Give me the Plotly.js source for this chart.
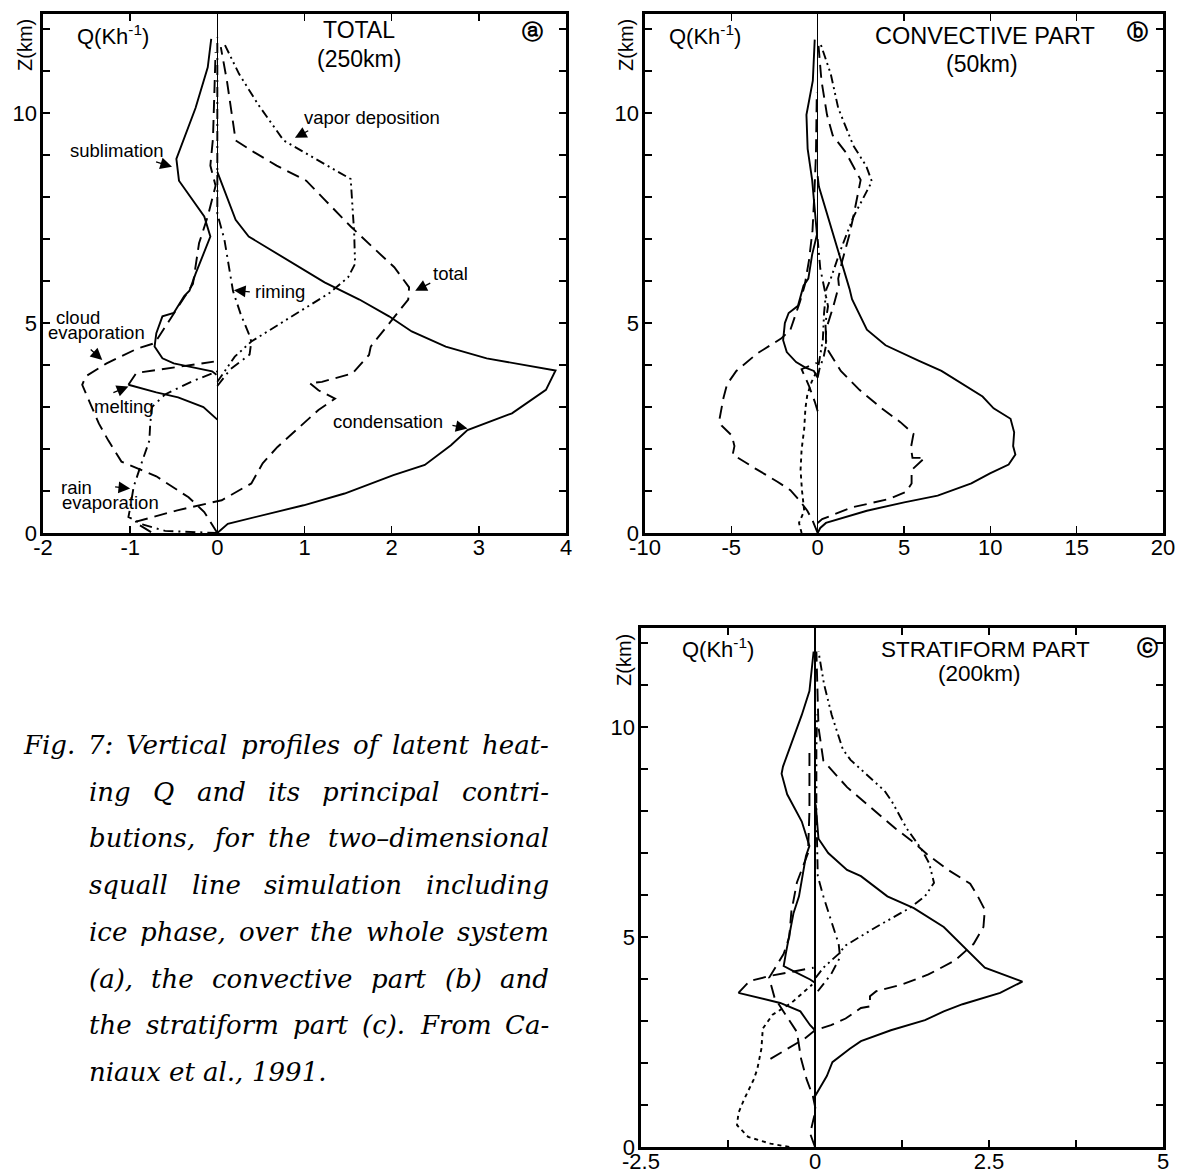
<!DOCTYPE html>
<html>
<head>
<meta charset="utf-8">
<script src="https://cdn.plot.ly/plotly-3.0.1.min.js"></script>
<style>html,body{margin:0;padding:0;background:#fff}</style>
</head>
<body>
<div id="chart" style="width:1179px;height:1173px"></div>
<script>
// ---------- (a) TOTAL, 250 km : heating rate Q (K/h) against height Z (km) ----------
const aCondZ = [0.00, 0.05, 0.22, 0.66, 0.94, 1.38, 1.62, 2.09, 2.45, 2.85, 3.41, 3.87, 4.16, 4.44, 4.80, 5.16, 5.56, 5.97, 6.57, 7.06, 7.46, 8.43, 8.60];
const aCondQ = [0.00, 0.03, 0.12, 0.99, 1.46, 2.02, 2.38, 2.68, 2.87, 3.38, 3.77, 3.88, 3.09, 2.62, 2.23, 1.97, 1.63, 1.23, 0.76, 0.36, 0.21, 0.03, 0.00];
const aSublZ = [3.77, 3.85, 4.04, 4.16, 4.44, 4.76, 5.16, 5.24, 5.64, 5.77, 6.17, 7.06, 7.54, 8.39, 8.91, 10.12, 11.09, 11.77];
const aSublQ = [-0.01, -0.06, -0.50, -0.63, -0.72, -0.70, -0.63, -0.50, -0.38, -0.32, -0.25, -0.08, -0.15, -0.44, -0.47, -0.25, -0.11, -0.07];
const aTotZ = [0.02, 0.26, 0.54, 0.78, 1.18, 1.66, 2.05, 2.45, 2.93, 3.20, 3.40, 3.57, 3.60, 3.80, 4.24, 4.44, 5.56, 5.85, 6.33, 6.81, 7.30, 7.94, 8.39, 8.75, 9.07, 9.35, 10.12, 10.77, 11.57];
const aTotQ = [-0.76, -0.95, -0.46, 0.05, 0.39, 0.52, 0.69, 0.90, 1.16, 1.35, 1.16, 1.06, 1.20, 1.55, 1.74, 1.76, 2.19, 2.20, 2.03, 1.78, 1.53, 1.23, 1.02, 0.68, 0.42, 0.21, 0.16, 0.11, 0.04];
const aVapZ = [3.60, 4.20, 4.56, 5.72, 6.09, 6.41, 7.14, 7.78, 8.43, 8.99, 9.35, 10.20, 10.93, 11.65];
const aVapQ = [0.00, 0.20, 0.39, 1.29, 1.50, 1.58, 1.57, 1.55, 1.53, 1.06, 0.76, 0.47, 0.25, 0.08];
const aRimZ = [3.50, 3.90, 4.25, 4.56, 4.75, 5.20, 5.76, 6.40, 7.00, 7.60, 11.8];
const aRimQ = [0.00, 0.15, 0.37, 0.39, 0.36, 0.27, 0.18, 0.13, 0.08, 0.00, 0.00];
const aCloudZ = [0.00, 0.50, 0.85, 1.35, 1.70, 2.20, 2.61, 3.53, 3.73, 4.04, 4.40, 4.52, 5.00, 5.48, 5.93, 6.90, 7.54, 8.27, 8.75, 9.40, 11.45];
const aCloudQ = [0.00, -0.15, -0.33, -0.70, -1.10, -1.25, -1.36, -1.55, -1.51, -1.27, -0.91, -0.72, -0.57, -0.42, -0.28, -0.21, -0.11, -0.02, -0.08, -0.05, -0.02];
const aMeltZ = [2.70, 3.00, 3.23, 3.35, 3.53, 3.81, 4.08];
const aMeltQ = [0.00, -0.16, -0.45, -0.70, -1.02, -0.93, -0.04];
const aRainZ = [0.00, 0.05, 0.20, 0.38, 0.60, 1.10, 1.60, 2.20, 2.60, 3.00, 3.30, 3.60, 3.85];
const aRainQ = [0.00, -0.60, -0.85, -1.02, -1.00, -0.96, -0.88, -0.78, -0.77, -0.75, -0.60, -0.30, 0.00];

// ---------- (b) CONVECTIVE PART, 50 km ----------
const bCondZ = [0.00, 0.12, 0.24, 0.53, 0.73, 0.89, 1.18, 1.42, 1.63, 1.87, 2.07, 2.40, 2.72, 2.97, 3.25, 3.58, 3.86, 4.10, 4.47, 4.84, 5.57, 5.82, 6.71, 7.28, 7.93, 8.25, 8.50];
const bCondQ = [0.00, 0.15, 0.48, 2.85, 5.01, 6.95, 8.90, 9.98, 11.06, 11.45, 11.32, 11.38, 11.17, 10.19, 9.55, 8.25, 7.17, 5.87, 3.93, 2.85, 1.99, 1.84, 1.19, 0.76, 0.32, 0.07, 0.00];
const bSublZ = [3.70, 3.86, 3.94, 4.07, 4.31, 4.59, 5.00, 5.24, 5.41, 5.89, 6.06, 6.63, 7.11, 7.76, 8.41, 9.15, 9.96, 10.77, 11.75];
const bSublQ = [0.00, -0.22, -0.71, -1.25, -1.79, -2.00, -1.90, -1.68, -1.14, -0.82, -0.54, -0.32, -0.04, -0.17, -0.32, -0.58, -0.65, -0.28, -0.17];
const bTotZ = [0.24, 0.33, 0.61, 0.81, 0.98, 1.18, 1.50, 1.79, 1.79, 2.03, 2.36, 2.64, 2.97, 3.41, 3.86, 4.43, 4.84, 5.40, 5.89, 6.06, 6.46, 7.11, 7.52, 7.93, 8.41, 9.07, 9.47, 9.96, 10.77, 11.60];
const bTotQ = [0.00, 0.26, 1.99, 4.15, 5.12, 5.44, 5.44, 6.20, 5.49, 5.40, 5.55, 4.79, 3.71, 2.42, 1.34, 0.48, 0.48, 0.91, 1.23, 1.19, 1.41, 1.84, 2.06, 2.27, 2.49, 1.62, 0.87, 0.54, 0.22, 0.05];
const bVapZ = [4.00, 4.60, 5.24, 5.80, 6.06, 6.71, 7.52, 8.09, 8.37, 8.74, 9.23, 10.12, 10.93, 11.67];
const bVapQ = [0.05, 0.30, 0.37, 0.50, 0.76, 1.30, 2.06, 2.81, 3.14, 2.81, 2.06, 1.19, 0.76, 0.15];
const bRimZ = [3.70, 3.90, 4.20, 4.50, 5.00, 5.40, 5.80, 6.30, 7.00];
const bRimQ = [0.00, 0.10, 0.35, 0.50, 0.45, 0.60, 0.40, 0.15, 0.00];
const bCloudZ = [0.00, 0.30, 0.53, 0.77, 1.02, 1.22, 1.54, 1.87, 2.07, 2.32, 2.56, 2.72, 3.21, 3.54, 3.86, 4.27, 4.63, 4.84, 5.49, 5.90, 6.50, 7.20, 8.00, 9.00, 10.5];
const bCloudQ = [0.00, -0.30, -0.60, -1.04, -1.58, -2.33, -3.63, -4.92, -4.82, -4.97, -5.57, -5.68, -5.46, -5.25, -4.71, -3.52, -2.12, -1.58, -1.04, -0.75, -0.50, -0.30, -0.20, -0.10, -0.05];
const bMeltZ = [2.90, 3.13, 3.50, 3.90, 4.05];
const bMeltQ = [0.00, -0.17, -0.50, -0.93, -0.05];
const bRainZ = [0.00, 0.24, 0.53, 1.02, 1.50, 1.99, 2.48, 2.97, 3.29, 3.60, 3.90];
const bRainQ = [-0.93, -1.08, -0.78, -0.91, -0.99, -0.93, -0.78, -0.71, -0.60, -0.35, 0.00];

// ---------- (c) STRATIFORM PART, 200 km ----------
const cCondZ = [0.00, 1.21, 1.69, 2.02, 2.34, 2.52, 2.78, 3.02, 3.23, 3.40, 3.67, 3.94, 4.27, 4.48, 4.88, 5.24, 5.69, 5.97, 6.45, 6.60, 7.00, 7.34, 8.16];
const cCondQ = [0.00, 0.00, 0.17, 0.25, 0.50, 0.66, 1.09, 1.58, 1.85, 2.12, 2.66, 2.98, 2.44, 2.31, 2.06, 1.85, 1.42, 1.04, 0.66, 0.46, 0.19, 0.05, 0.01];
const cSublZ = [3.91, 3.99, 4.19, 4.31, 4.60, 5.00, 5.56, 5.97, 6.45, 6.93, 7.17, 7.75, 8.40, 8.89, 9.06, 9.71, 10.29, 10.86, 11.80];
const cSublQ = [0.00, -0.07, -0.31, -0.45, -0.42, -0.37, -0.31, -0.23, -0.18, -0.13, -0.08, -0.19, -0.40, -0.48, -0.46, -0.32, -0.19, -0.08, -0.02];
const cTotZ = [2.10, 2.58, 2.78, 2.90, 3.06, 3.31, 3.35, 3.59, 3.71, 3.87, 4.11, 4.44, 4.84, 5.24, 5.65, 5.97, 6.27, 6.60, 6.97, 7.25, 7.58, 8.11, 8.57, 9.20, 10.00, 11.80];
const cTotQ = [-0.64, -0.15, 0.00, 0.23, 0.44, 0.66, 0.79, 0.79, 0.88, 1.25, 1.63, 2.01, 2.28, 2.42, 2.44, 2.34, 2.23, 1.91, 1.61, 1.42, 1.16, 0.78, 0.46, 0.12, 0.05, 0.02];
const cVapZ = [4.03, 4.27, 4.60, 4.80, 5.24, 5.69, 5.97, 6.29, 6.76, 7.09, 7.58, 8.24, 8.48, 8.81, 9.22, 9.47, 10.29, 11.02, 11.80];
const cVapQ = [0.01, 0.12, 0.34, 0.44, 0.88, 1.36, 1.58, 1.71, 1.64, 1.53, 1.32, 1.10, 1.00, 0.78, 0.51, 0.40, 0.24, 0.13, 0.05];
const cRimZ = [3.71, 3.87, 4.11, 4.52, 4.84, 5.40, 5.97, 6.45, 7.00, 8.00, 9.50, 10.3];
const cRimQ = [0.04, 0.12, 0.23, 0.36, 0.34, 0.23, 0.12, 0.04, 0.03, 0.02, 0.02, 0.03];
const cCloudZ = [0.00, 0.32, 0.89, 1.21, 1.61, 2.10, 2.74, 3.23, 3.55, 4.03, 4.60, 5.00, 5.60, 6.30, 7.00, 8.00, 9.50];
const cCloudQ = [0.00, -0.07, 0.01, -0.03, -0.12, -0.20, -0.26, -0.45, -0.58, -0.66, -0.45, -0.37, -0.34, -0.26, -0.10, -0.08, -0.08];
const cMeltZ = [2.78, 2.90, 3.23, 3.43, 3.67, 3.95, 4.07, 4.27];
const cMeltQ = [0.00, -0.07, -0.21, -0.50, -1.10, -0.94, -0.66, -0.02];
const cRainZ = [0.00, 0.08, 0.24, 0.52, 0.81, 1.13, 1.61, 1.85, 2.34, 2.82, 3.15, 3.43, 3.87];
const cRainQ = [-0.37, -0.64, -0.96, -1.12, -1.10, -1.02, -0.88, -0.83, -0.77, -0.75, -0.61, -0.34, -0.04];

// axis ticks and labels
const zTicks = [0, 1, 2, 3, 4, 5, 6, 7, 8, 9, 10, 11, 12];
const zTickText = ['0', '', '', '', '', '5', '', '', '', '', '10', '', ''];
const aQTicks = [-2, -1, 0, 1, 2, 3, 4];
const bQTicks = [-10, -5, 0, 5, 10, 15, 20];
const cQTicks = [-2.5, -1.25, 0, 1.25, 2.5, 3.75, 5];
const cQTickText = ['-2.5', '', '0', '', '2.5', '', '5'];

// caption lines
const captionLines = [
  'Fig.  7:  Vertical profiles of latent heat-',
  'ing Q and its principal contri-',
  'butions, for the two\u2013dimensional',
  'squall line simulation including',
  'ice phase, over the whole system',
  '(a), the convective part (b) and',
  'the stratiform part (c). From Ca-',
  'niaux et al., 1991.'
];

// ---------- drawing ----------
const W = 1179, H = 1173;
const SANS = '"Liberation Sans", Arial, sans-serif';
const STY = {
  solid: 'solid',
  longdash: '13px,7px',
  shortdash: '4px,4px',
  dashdot: '10px,5px,2px,5px',
  dashdotdot: '9px,4px,2px,4px,2px,4px'
};

function line(q, z, ax, dash) {
  return {
    x: q, y: z, type: 'scatter', mode: 'lines',
    xaxis: 'x' + ax, yaxis: 'y' + ax,
    line: {color: '#000', width: 1.9, dash: dash, shape: 'linear'},
    hoverinfo: 'skip', showlegend: false
  };
}
// melting loop: solid on its lower limb, dashed above its strongest cooling
function meltLines(q, z, ax) {
  let k = 0;
  q.forEach((v, i) => { if (v < q[k]) k = i; });
  return [line(q.slice(0, k + 1), z.slice(0, k + 1), ax, STY.solid),
          line(q.slice(k), z.slice(k), ax, STY.longdash)];
}

const traces = [
  line(aCondQ, aCondZ, '', STY.solid),
  line(aSublQ, aSublZ, '', STY.solid),
  ...meltLines(aMeltQ, aMeltZ, ''),
  line(aTotQ, aTotZ, '', STY.longdash),
  line(aCloudQ, aCloudZ, '', STY.longdash),
  line(aVapQ, aVapZ, '', STY.dashdotdot),
  line(aRimQ, aRimZ, '', STY.dashdot),
  line(aRainQ, aRainZ, '', STY.dashdot),

  line(bCondQ, bCondZ, '2', STY.solid),
  line(bSublQ, bSublZ, '2', STY.solid),
  line(bMeltQ, bMeltZ, '2', STY.longdash),
  line(bTotQ, bTotZ, '2', STY.longdash),
  line(bCloudQ, bCloudZ, '2', STY.longdash),
  line(bVapQ, bVapZ, '2', STY.dashdotdot),
  line(bRimQ, bRimZ, '2', STY.dashdot),
  line(bRainQ, bRainZ, '2', STY.shortdash),

  line(cCondQ, cCondZ, '3', STY.solid),
  line(cSublQ, cSublZ, '3', STY.solid),
  ...meltLines(cMeltQ, cMeltZ, '3'),
  line(cTotQ, cTotZ, '3', STY.longdash),
  line(cCloudQ, cCloudZ, '3', STY.longdash),
  line(cVapQ, cVapZ, '3', STY.dashdotdot),
  line(cRimQ, cRimZ, '3', STY.dashdot),
  line(cRainQ, cRainZ, '3', STY.shortdash)
];

function xAxis(domain, range, vals, text, anchor) {
  return {
    domain: domain, range: range, anchor: anchor,
    tickvals: vals, ticktext: text || vals.map(String),
    ticks: 'inside', ticklen: 7, tickwidth: 1.6, tickcolor: '#000',
    showline: true, linewidth: 2.6, linecolor: '#000', mirror: 'ticks',
    showgrid: false, zeroline: true, zerolinecolor: '#000', zerolinewidth: 1.5,
    tickfont: {family: SANS, size: 22, color: '#000'}, ticklabelstandoff: -7,
    fixedrange: true
  };
}
function yAxis(domain, anchor) {
  return {
    domain: domain, range: [0, 12.36], anchor: anchor,
    tickvals: zTicks, ticktext: zTickText,
    ticks: 'inside', ticklen: 7, tickwidth: 1.6, tickcolor: '#000',
    showline: true, linewidth: 2.6, linecolor: '#000', mirror: 'ticks',
    showgrid: false, zeroline: false,
    tickfont: {family: SANS, size: 22, color: '#000'}, ticklabelstandoff: -1,
    fixedrange: true
  };
}

const dxA = [43 / W, 566 / W], dxB = [645 / W, 1163 / W], dxC = [641 / W, 1163 / W];
const dyTop = [1 - 533 / H, 1 - 14 / H], dyBot = [1 - 1147 / H, 1 - 628 / H];

const ann = [];
function txt(ax, x, y, s, size, opts) {
  ann.push(Object.assign({
    xref: 'x' + ax, yref: 'y' + ax, x: x, y: y, text: s, showarrow: false, borderpad: 0,
    font: {family: SANS, size: size, color: '#000'}, xanchor: 'center', yanchor: 'middle'
  }, opts || {}));
}
function arrow(ax, x0, y0, x1, y1) {
  ann.push({
    xref: 'x' + ax, yref: 'y' + ax, axref: 'x' + ax, ayref: 'y' + ax,
    x: x1, y: y1, ax: x0, ay: y0, text: '', showarrow: true,
    arrowhead: 2, arrowsize: 1.8, arrowwidth: 1.3, arrowcolor: '#000', standoff: 0
  });
}
const CIRC = {family: '"DejaVu Sans", sans-serif', size: 21, color: '#000', weight: 'bold'};

// panel headers
txt('', -1.2, 11.85, 'Q(Kh<sup>-1</sup>)', 22);
txt('', 1.63, 11.98, 'TOTAL', 23);
txt('', 1.63, 11.28, '(250km)', 23);
txt('', 3.62, 11.93, '\u24D0', 21, {font: CIRC});
txt('2', -6.5, 11.85, 'Q(Kh<sup>-1</sup>)', 22);
txt('2', 9.7, 11.83, 'CONVECTIVE PART', 23.5);
txt('2', 9.5, 11.16, '(50km)', 23);
txt('2', 18.55, 11.93, '\u24D1', 21, {font: CIRC});
txt('3', -1.39, 11.88, 'Q(Kh<sup>-1</sup>)', 22);
txt('3', 2.45, 11.84, 'STRATIFORM PART', 22.5);
txt('3', 2.37, 11.27, '(200km)', 22.5);
txt('3', 4.78, 11.88, '\u24D2', 21, {font: CIRC});

// process labels in panel (a)
const LBL = 18.5;
txt('', -1.15, 9.12, 'sublimation', LBL);
txt('', 1.77, 9.9, 'vapor deposition', LBL);
txt('', 2.67, 6.19, 'total', LBL);
txt('', 0.72, 5.76, 'riming', LBL);
txt('', -1.86, 5.14, 'cloud', LBL, {xanchor: 'left'});
txt('', -1.95, 4.77, 'evaporation', LBL, {xanchor: 'left'});
txt('', -1.07, 3.02, 'melting', LBL);
txt('', 1.96, 2.66, 'condensation', LBL);
txt('', -1.81, 1.09, 'rain', LBL, {xanchor: 'left'});
txt('', -1.79, 0.72, 'evaporation', LBL, {xanchor: 'left'});

arrow('', -0.72, 8.85, -0.52, 8.72);
arrow('', 1.06, 9.6, 0.89, 9.41);
arrow('', 2.46, 5.97, 2.27, 5.77);
arrow('', 0.39, 5.74, 0.19, 5.78);
arrow('', -1.47, 4.40, -1.32, 4.12);
arrow('', -1.21, 3.33, -1.02, 3.49);
arrow('', 2.68, 2.57, 2.87, 2.49);
arrow('', -1.19, 1.10, -1.00, 1.06);

// vertical axis titles
function ztitle(px, py) {
  ann.push({xref: 'paper', yref: 'paper', x: px / W, y: 1 - py / H, text: 'Z(km)',
    textangle: -90, showarrow: false, borderpad: 0, font: {family: SANS, size: 20, color: '#000'},
    xanchor: 'center', yanchor: 'middle'});
}
ztitle(25, 45); ztitle(626, 45); ztitle(624, 660);

// caption, justified word by word
const capFont = 'DejaVu Serif';
const capTop = 745, capStep = 46.7, capRight = 548;
const ctx = document.createElement('canvas').getContext('2d');
const leftOf = i => (i === 0 ? 22 : 88);
ctx.font = 'italic 100px "' + capFont + '"';
let capSize = 26;
captionLines.slice(0, -1).forEach((ln, i) => {
  const natural = ctx.measureText(ln.replace(/\s+/g, ' ')).width;
  capSize = Math.min(capSize, 100 * (capRight - leftOf(i)) / natural * 0.985);
});
ctx.font = 'italic ' + capSize + 'px "' + capFont + '"';
captionLines.forEach((ln, i) => {
  const left = leftOf(i);
  const words = ln.split(/\s+/);
  const widths = words.map(w => ctx.measureText(w).width);
  const total = widths.reduce((a, b) => a + b, 0);
  const last = i === captionLines.length - 1;
  const gap = last || words.length < 2 ? ctx.measureText(' ').width : (capRight - left - total) / (words.length - 1);
  let x = left;
  words.forEach((w, k) => {
    ann.push({xref: 'paper', yref: 'paper', x: x / W, y: 1 - (capTop + i * capStep) / H,
      text: w, showarrow: false, xanchor: 'left', yanchor: 'middle', borderpad: 0,
      font: {family: capFont, size: capSize, color: '#000', style: 'italic'}});
    x += widths[k] + gap;
  });
});

const layout = {
  width: W, height: H, margin: {l: 0, r: 0, t: 0, b: 0},
  paper_bgcolor: '#fff', plot_bgcolor: '#fff', showlegend: false,
  xaxis: xAxis(dxA, [-2, 4], aQTicks, null, 'y'),
  yaxis: yAxis(dyTop, 'x'),
  xaxis2: xAxis(dxB, [-10, 20], bQTicks, null, 'y2'),
  yaxis2: yAxis(dyTop, 'x2'),
  xaxis3: xAxis(dxC, [-2.5, 5], cQTicks, cQTickText, 'y3'),
  yaxis3: yAxis(dyBot, 'x3'),
  annotations: ann
};

Plotly.newPlot('chart', traces, layout, {staticPlot: true, displayModeBar: false});
</script>
</body>
</html>
